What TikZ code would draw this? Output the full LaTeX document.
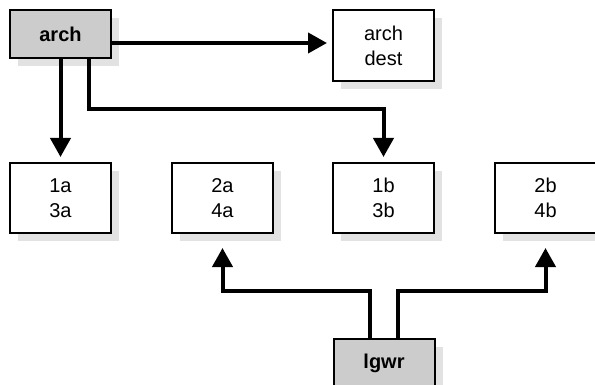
\documentclass[tikz,border=0pt]{standalone}
\usepackage{fontspec}
\setmainfont{Liberation Sans}
\usepackage{tikz}
\usetikzlibrary{calc,arrows.meta,positioning,shadows}
\definecolor{boxgray}{RGB}{204,204,204}
\definecolor{shadowgray}{RGB}{226,226,226}
\tikzstyle{box}=[draw,line width=2pt,fill=white,align=center,inner sep=0pt,
  minimum width=101pt,font=\fontsize{20}{25}\selectfont,
  general shadow={shadow xshift=8pt,shadow yshift=-8pt,fill=shadowgray}]
\tikzstyle{srcbox}=[box,fill=boxgray,minimum height=48pt,font=\fontsize{20}{25}\selectfont\bfseries]
\tikzstyle{destbox}=[box,minimum height=70pt]
\tikzstyle{flow}=[line width=4pt,-{Triangle[length=19pt,width=20pt]}]

\begin{document}
\begin{tikzpicture}[x=1pt,y=-1pt]
\useasboundingbox (0,0) rectangle (595,385);
\node [srcbox] (arch) at (60.5,34) {arch};
\node [destbox,minimum height=71pt] (archdest) at (383.5,45.5) {arch\\dest};
\node [destbox] (n1a) at (60.5,198) {1a\\3a};
\node [destbox] (n2a) at (222.5,198) {2a\\4a};
\node [destbox] (n1b) at (383.5,198) {1b\\3b};
\node [destbox] (n2b) at (545.5,198) {2b\\4b};
\node [srcbox] (lgwr) at (384,363) {lgwr};
\draw[flow, shorten >=5pt] ([yshift=-9pt]arch.east) -- ([yshift=-9pt]arch.east -| archdest.west);
\draw[flow, shorten >=5pt] (arch.south) -- (n1a.north);
\draw[flow, shorten >=5pt] ([xshift=28pt]arch.south) |- ([yshift=53pt]n1b.north) -- (n1b.north);
\draw[flow, shorten >=14pt] ([xshift=-14pt]lgwr.north) |- ([yshift=-57pt]n2a.south) -- (n2a.south);
\draw[flow, shorten >=14pt] ([xshift=14pt]lgwr.north) |- ([yshift=-57pt]n2b.south) -- (n2b.south);
\end{tikzpicture}
\end{document}
